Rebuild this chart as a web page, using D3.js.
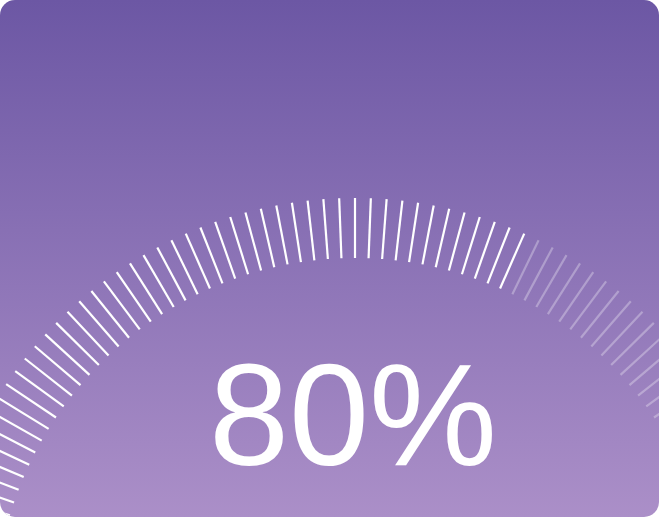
<!DOCTYPE html>
<html>
<head>
<meta charset="utf-8">
<script src="https://cdn.jsdelivr.net/npm/d3@7"></script>
<style>
  html, body { margin: 0; padding: 0; background: #fff; }
  #gauge { width: 660px; height: 518px; }
</style>
</head>
<body>
<div id="gauge"></div>
<script>
// gauge data
const value = 80;
const tickValues = d3.range(0, 101); // one tick per unit, 0..100
const valueLabel = value + "%";

(function() {
    const container = document.getElementById("gauge");
    const width = 660;
    const height = 518;

    // card
    const cardW = 659;
    const cardH = 517;
    const cardR = 15;

    // gauge centre sits below the card, only the top of the ring shows
    const cx = 355;
    const cy = 618;
    const innerR = 360;
    const outerR = 420;

    // value -> angle (radians, 0 = top, clockwise)
    const angle = d3.scaleLinear()
        .domain([0, 100])
        .range([-149.04 * Math.PI / 180, 66.96 * Math.PI / 180]);

    const svg = d3.select(container).append("svg")
        .attr("width", width)
        .attr("height", height);

    const defs = svg.append("defs");

    const grad = defs.append("linearGradient")
        .attr("id", "bg")
        .attr("x1", 0).attr("y1", 0)
        .attr("x2", 0).attr("y2", 1);
    grad.append("stop").attr("offset", "0%").attr("stop-color", "#6c57a4");
    grad.append("stop").attr("offset", "100%").attr("stop-color", "#ab8fc8");

    defs.append("clipPath")
        .attr("id", "card-clip")
        .append("rect")
        .attr("width", cardW)
        .attr("height", cardH)
        .attr("rx", cardR);

    svg.append("rect")
        .attr("width", cardW)
        .attr("height", cardH)
        .attr("rx", cardR)
        .attr("fill", "url(#bg)");

    const g = svg.append("g")
        .attr("clip-path", "url(#card-clip)");

    const ticks = g.append("g")
        .attr("transform", "translate(" + cx + "," + cy + ")");

    ticks.selectAll("line")
        .data(tickValues)
        .enter()
        .append("line")
        .attr("x1", v => d3.pointRadial(angle(v), innerR)[0])
        .attr("y1", v => d3.pointRadial(angle(v), innerR)[1])
        .attr("x2", v => d3.pointRadial(angle(v), outerR)[0])
        .attr("y2", v => d3.pointRadial(angle(v), outerR)[1])
        .attr("stroke", "#fff")
        .attr("stroke-opacity", v => v <= value ? 1 : 0.3)
        .attr("stroke-width", 2.2);

    g.append("text")
        .attr("x", 353)
        .attr("y", 465)
        .attr("text-anchor", "middle")
        .attr("fill", "#fff")
        .attr("font-family", "'Liberation Sans', Arial, sans-serif")
        .attr("font-size", 144)
        .text(valueLabel);
})();
</script>
</body>
</html>
